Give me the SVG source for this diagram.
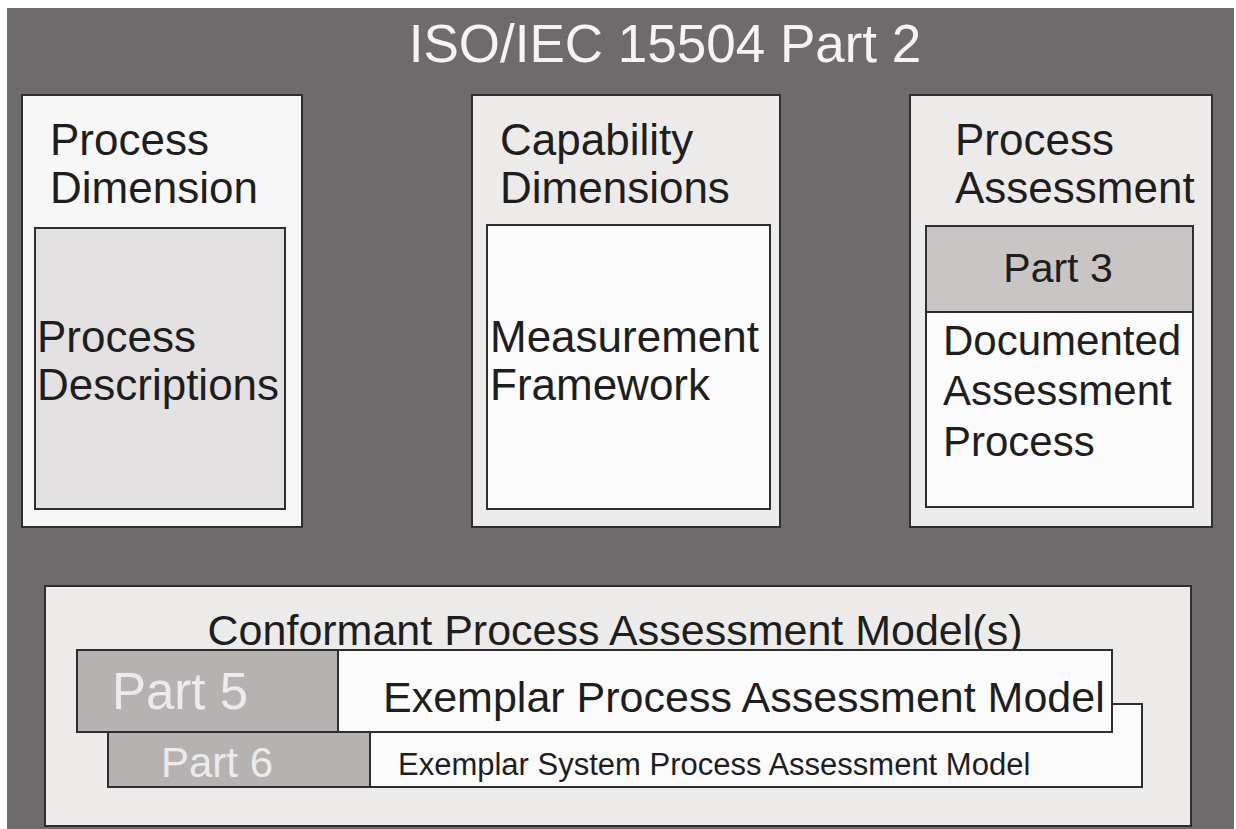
<svg xmlns="http://www.w3.org/2000/svg" width="1236" height="829" viewBox="0 0 1236 829">
<style>
text{font-family:"Liberation Sans",Arial,sans-serif;fill:#1e1e1e}
.box{stroke:#2e2e2e;stroke-width:2}
.lt{fill:#ecebea}
.wh{fill:#fbfbfb}
.gr{fill:#b6b2b2}
.big{font-size:44px}
.wt{fill:#f4f4f4}
.pt{fill:#ebebeb}
</style>
<rect x="0" y="0" width="1236" height="829" fill="#ffffff"/>
<g id="background">
<rect x="7" y="8" width="1227" height="830" fill="#6f6b6d"/>
<text x="665" y="62" font-size="53" text-anchor="middle" class="wt">ISO/IEC 15504 Part 2</text>
</g>
<g id="process-dimension">
<rect class="box" x="22" y="95" width="280" height="432" fill="#f8f7f7"/>
<text class="big" x="50" y="155">Process</text>
<text class="big" x="50" y="203">Dimension</text>
</g>
<g id="process-descriptions">
<rect class="box" x="35" y="228" width="250" height="281" fill="#e3e1e1"/>
<text class="big" x="37" y="352">Process</text>
<text class="big" x="37" y="400">Descriptions</text>
</g>
<g id="capability-dimensions">
<rect class="box lt" x="472" y="95" width="308" height="432"/>
<text class="big" x="500" y="155">Capability</text>
<text class="big" x="500" y="203">Dimensions</text>
</g>
<g id="measurement-framework">
<rect class="box wh" x="487" y="225" width="283" height="284"/>
<text class="big" x="490" y="352">Measurement</text>
<text class="big" x="490" y="400">Framework</text>
</g>
<g id="process-assessment">
<rect class="box lt" x="910" y="95" width="302" height="432"/>
<text class="big" x="955" y="155">Process</text>
<text class="big" x="955" y="203">Assessment</text>
</g>
<g id="part3">
<rect class="box" x="926" y="226" width="267" height="86" fill="#c9c5c5"/>
<text x="1058" y="282" font-size="41" text-anchor="middle">Part 3</text>
</g>
<g id="documented-assessment-process">
<rect class="box wh" x="926" y="312" width="267" height="195"/>
<text x="943" y="355" font-size="42">Documented</text>
<text x="943" y="405" font-size="42">Assessment</text>
<text x="943" y="456" font-size="42">Process</text>
</g>
<g id="conformant-models">
<rect class="box lt" x="45" y="586" width="1146" height="240"/>
<text x="615" y="645" font-size="43" text-anchor="middle">Conformant Process Assessment Model(s)</text>
</g>
<g id="part6">
<rect class="box wh" x="108" y="704" width="1034" height="83"/>
<rect class="box gr" x="108" y="732" width="262" height="55"/>
<text x="217" y="777" font-size="42" text-anchor="middle" class="pt">Part 6</text>
<text x="398" y="775" font-size="31">Exemplar System Process Assessment Model</text>
</g>
<g id="part5">
<rect class="box wh" x="77" y="650" width="1035" height="82"/>
<rect class="box gr" x="77" y="650" width="261" height="82"/>
<text x="180" y="709" font-size="51" text-anchor="middle" class="pt">Part 5</text>
<text x="383" y="712" font-size="43">Exemplar Process Assessment Model</text>
</g>
<g id="connectors"></g>
</svg>
